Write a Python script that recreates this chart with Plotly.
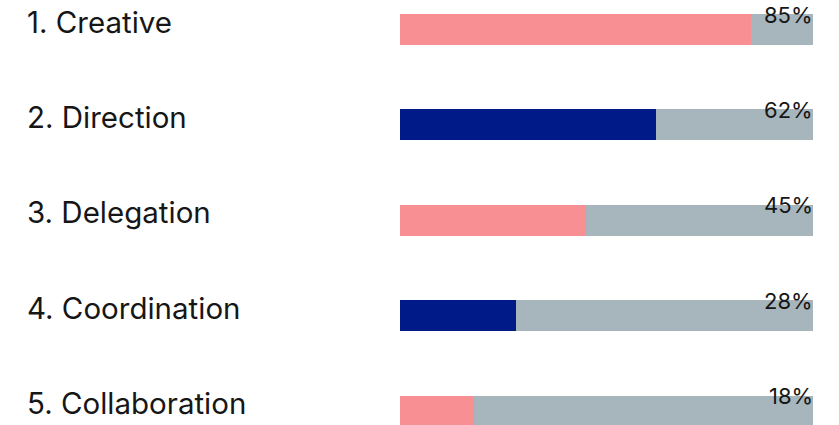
import plotly.graph_objects as go

labels = ["1. Creative", "2. Direction", "3. Delegation", "4. Coordination", "5. Collaboration"]
values = [85, 62, 45, 28, 18]
maximum = 100
colors = ["#F78F93", "#001A88", "#F78F93", "#001A88", "#F78F93"]
track_color = "#A7B5BC"
text_color = "#161616"
font_family = "Inter, 'DejaVu Sans', sans-serif"

W, H = 839, 425
row_px = 95.375
first_center = 29.5
idx = list(range(len(labels)))
bar_w = 31 / row_px

fig = go.Figure()
fig.add_trace(go.Bar(
    y=idx, x=[maximum] * len(idx), orientation="h", width=bar_w,
    marker=dict(color=track_color, line=dict(width=0)), hoverinfo="skip", showlegend=False,
))
fig.add_trace(go.Bar(
    y=idx, x=values, orientation="h", width=bar_w,
    marker=dict(color=colors, line=dict(width=0)), showlegend=False,
    hovertemplate="%{x}%<extra></extra>",
))

annotations = []
for i, (lab, v) in enumerate(zip(labels, values)):
    annotations.append(dict(
        xref="paper", yref="y", x=24.5 / W, y=i - 8 / row_px, text=lab, showarrow=False,
        xanchor="left", yanchor="middle",
        font=dict(family=font_family, size=29.5, color=text_color),
    ))
    annotations.append(dict(
        xref="x", yref="y", x=maximum, y=i - bar_w / 2 + 0.5 / row_px, text=f"{v}%", showarrow=False,
        xanchor="right", yanchor="middle", xshift=2,
        font=dict(family=font_family, size=22, color=text_color),
    ))

top_idx = -first_center / row_px
bot_idx = (H - first_center) / row_px

fig.update_layout(
    width=W, height=H,
    margin=dict(l=0, r=0, t=0, b=0),
    paper_bgcolor="white", plot_bgcolor="white",
    barmode="overlay", bargap=0,
    xaxis=dict(domain=[400 / W, 813 / W], range=[0, maximum], visible=False, fixedrange=True),
    yaxis=dict(range=[bot_idx, top_idx], visible=False, fixedrange=True),
    annotations=annotations,
)

fig.write_html(
    "out.html",
    config={"displayModeBar": False},
    post_script="document.body.style.margin='0';document.body.style.overflow='hidden';",
)
